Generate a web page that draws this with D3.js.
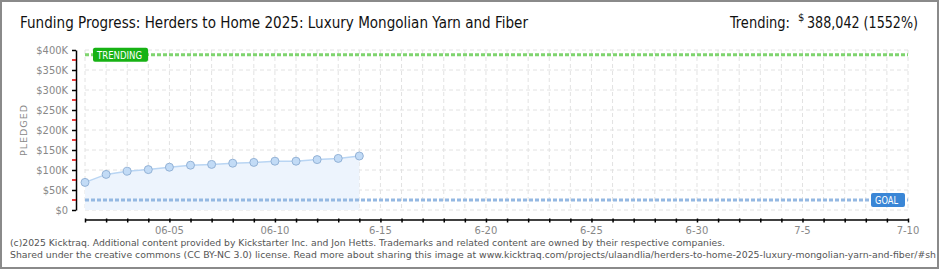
<!DOCTYPE html>
<html>
<head>
<meta charset="utf-8">
<script src="https://cdn.jsdelivr.net/npm/d3@7"></script>
<style>
  body { margin: 0; background: #fff; }
  svg { display: block; font-family: "DejaVu Sans", sans-serif; }
</style>
</head>
<body>
<svg id="chart" width="940" height="270"></svg>
<script>
// data
const days = ["2025-06-01","2025-06-02","2025-06-03","2025-06-04","2025-06-05","2025-06-06","2025-06-07",
              "2025-06-08","2025-06-09","2025-06-10","2025-06-11","2025-06-12","2025-06-13","2025-06-14"];
const pledged = [69000, 89000, 97000, 101000, 107000, 112000, 114000, 117000, 119000, 122000, 122000, 126000, 129000, 135000];
const goal = 25000;
const trending = 388042;
const tickDates = ["2025-06-05","2025-06-10","2025-06-15","2025-06-20","2025-06-25","2025-06-30","2025-07-05","2025-07-10"];
const tickLabels = ["06-05","06-10","6-15","6-20","6-25","6-30","7-5","7-10"];
const yTicks = [0, 50000, 100000, 150000, 200000, 250000, 300000, 350000, 400000];
const yTickLabels = ["$0","$50K","$100K","$150K","$200K","$250K","$300K","$350K","$400K"];

const parse = d3.utcParse("%Y-%m-%d");
const data = days.map((d, i) => ({ date: parse(d), value: pledged[i] }));

const svg = d3.select("#chart");

const x = d3.scaleUtc()
    .domain([parse("2025-06-01"), parse("2025-07-10")])
    .range([85, 908]);
const y = d3.scaleLinear()
    .domain([0, 400000])
    .range([210, 50]);

// frame
svg.append("rect")
    .attr("x", 1).attr("y", 1).attr("width", 937).attr("height", 267)
    .attr("fill", "#fff").attr("stroke", "#8a8a8a").attr("stroke-width", 2);

// title
svg.append("text")
    .attr("x", 20).attr("y", 28)
    .attr("font-size", 16.5).attr("fill", "#111")
    .attr("textLength", 508).attr("lengthAdjust", "spacingAndGlyphs")
    .text("Funding Progress: Herders to Home 2025: Luxury Mongolian Yarn and Fiber");

// trending summary, top right
const condensed = "DejaVu Sans Condensed, DejaVu Sans";
svg.append("text")
    .attr("x", 730).attr("y", 28)
    .attr("font-family", condensed).attr("font-size", 16).attr("fill", "#111")
    .attr("textLength", 60).attr("lengthAdjust", "spacingAndGlyphs")
    .text("Trending:");
svg.append("text")
    .attr("x", 798).attr("y", 21)
    .attr("font-size", 10).attr("fill", "#111")
    .text("$");
svg.append("text")
    .attr("x", 807).attr("y", 28)
    .attr("font-family", condensed).attr("font-size", 15).attr("fill", "#111")
    .attr("textLength", 111).attr("lengthAdjust", "spacingAndGlyphs")
    .text(d3.format(",")(trending) + " (1552%)");

// grid
const dayTicks = d3.utcDay.range(parse("2025-06-01"), d3.utcDay.offset(parse("2025-07-10"), 1));
svg.append("g").selectAll("line")
    .data(dayTicks)
    .join("line")
    .attr("x1", d => x(d)).attr("x2", d => x(d))
    .attr("y1", 50).attr("y2", 210)
    .attr("stroke", "#e2e2e2").attr("stroke-dasharray", "4,3");
svg.append("g").selectAll("line")
    .data(yTicks)
    .join("line")
    .attr("x1", 85).attr("x2", 908)
    .attr("y1", d => y(d)).attr("y2", d => y(d))
    .attr("stroke", "#e2e2e2").attr("stroke-dasharray", "4,3");

// area + line + points
svg.append("path")
    .datum(data)
    .attr("fill", "#edf4fd")
    .attr("d", d3.area().x(d => x(d.date)).y0(y(0)).y1(d => y(d.value)));
svg.append("path")
    .datum(data)
    .attr("fill", "none").attr("stroke", "#b9d5f3").attr("stroke-width", 1.5)
    .attr("d", d3.line().x(d => x(d.date)).y(d => y(d.value)));

// goal line
svg.append("line")
    .attr("x1", 85).attr("x2", 908)
    .attr("y1", y(goal)).attr("y2", y(goal))
    .attr("stroke", "#94b8e2").attr("stroke-width", 3).attr("stroke-dasharray", "4,2");

// trending line
svg.append("line")
    .attr("x1", 85).attr("x2", 908)
    .attr("y1", y(trending)).attr("y2", y(trending))
    .attr("stroke", "#7fd46f").attr("stroke-width", 3).attr("stroke-dasharray", "4,2");

svg.append("g").selectAll("circle")
    .data(data)
    .join("circle")
    .attr("cx", d => x(d.date)).attr("cy", d => y(d.value))
    .attr("r", 4)
    .attr("fill", "#c2dbf6").attr("stroke", "#93b2d6").attr("stroke-width", 1);

// badges
function badge(bx, cy, w, tw, label, color) {
    const g = svg.append("g");
    g.append("rect")
        .attr("x", bx).attr("y", cy - 7).attr("width", w).attr("height", 14)
        .attr("rx", 2).attr("fill", color);
    g.append("text")
        .attr("x", bx + 4).attr("y", cy + 4)
        .attr("font-size", 10).attr("fill", "#fff")
        .attr("textLength", tw).attr("lengthAdjust", "spacingAndGlyphs")
        .text(label);
}
badge(93, y(trending), 55, 45, "TRENDING", "#17b214");
badge(871, y(goal), 34, 23, "GOAL", "#3a86d6");

// y axis
const yAxis = svg.append("g")
    .attr("transform", "translate(76,0)")
    .call(d3.axisLeft(y).tickValues(yTicks).tickFormat((d, i) => yTickLabels[i]).tickSize(4).tickSizeOuter(0).tickPadding(4));
yAxis.select(".domain").attr("stroke", "#000").attr("stroke-width", 1.5);
yAxis.selectAll(".tick line").attr("stroke", "#000").attr("stroke-width", 1.5);
yAxis.selectAll(".tick text").attr("fill", "#888").attr("font-size", 11).attr("font-family", condensed);
yAxis.selectAll("line.minor")
    .data(yTicks.slice(0, -1).map(d => d + 25000))
    .join("line")
    .attr("class", "minor")
    .attr("x1", -4).attr("x2", 0)
    .attr("y1", d => y(d)).attr("y2", d => y(d))
    .attr("stroke", "#e00000").attr("stroke-width", 1.5);

svg.append("text")
    .attr("transform", "translate(27,130) rotate(-90)")
    .attr("text-anchor", "middle")
    .attr("font-size", 9.5).attr("fill", "#888").attr("letter-spacing", 1)
    .text("PLEDGED");

// x axis
const xAxis = svg.append("g")
    .attr("transform", "translate(0,219.5)")
    .call(d3.axisBottom(x).tickValues(dayTicks).tickFormat(() => "").tickSize(3).tickSizeOuter(0));
xAxis.select(".domain").attr("stroke", "#000").attr("stroke-width", 1.5);
xAxis.selectAll(".tick line").attr("stroke", "#000").attr("stroke-width", 1.5).attr("y1", -1);

svg.append("g").selectAll("text")
    .data(tickDates)
    .join("text")
    .attr("x", d => x(parse(d))).attr("y", 234)
    .attr("text-anchor", "middle")
    .attr("font-size", 10).attr("fill", "#888")
    .text((d, i) => tickLabels[i]);

// footer (second line is cut by the frame in the original)
const footer = [
  "(c)2025 Kicktraq. Additional content provided by Kickstarter Inc. and Jon Hetts. Trademarks and related content are owned by their respective companies.",
  "Shared under the creative commons (CC BY-NC 3.0) license. Read more about sharing this image at www.kicktraq.com/projects/ulaandlia/herders-to-home-2025-luxury-mongolian-yarn-and-fiber/#sh"
];
const footerLen = [715, 926];
svg.append("g").selectAll("text")
    .data(footer)
    .join("text")
    .attr("x", 10).attr("y", (d, i) => 246 + i * 12)
    .attr("font-size", 9.3).attr("fill", "#555")
    .attr("textLength", (d, i) => footerLen[i]).attr("lengthAdjust", "spacingAndGlyphs")
    .text(d => d);
</script>
</body>
</html>
